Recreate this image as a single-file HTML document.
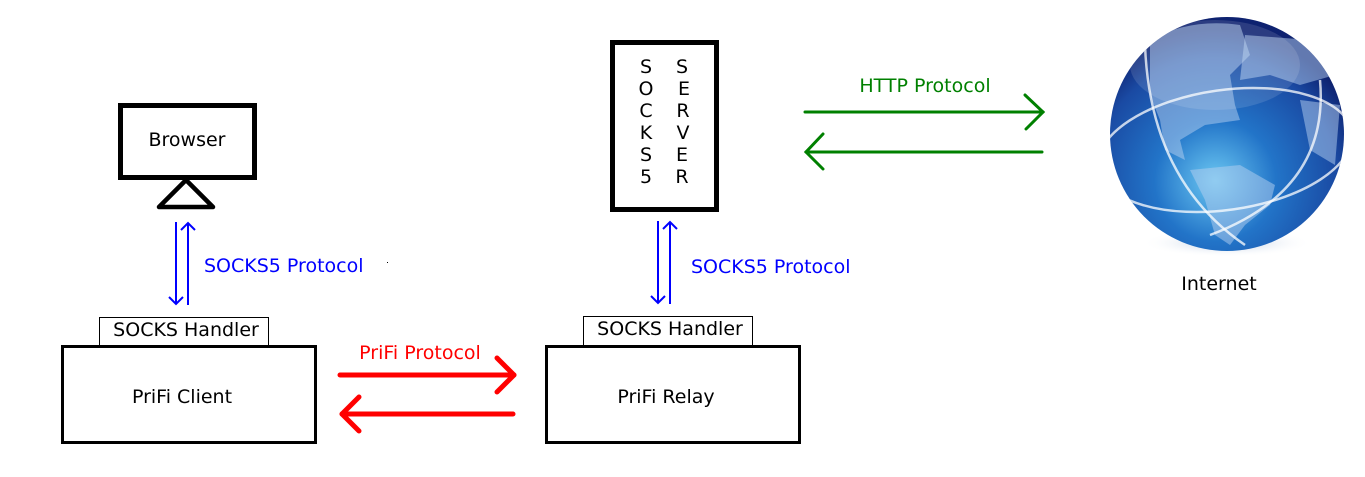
<!DOCTYPE html>
<html><head><meta charset="utf-8"><style>
html,body{margin:0;padding:0;background:#fff;}
svg{display:block;}
text{font-family:"DejaVu Sans","Liberation Sans",sans-serif;font-size:19px;}
</style></head><body>
<svg width="1365" height="477" viewBox="0 0 1365 477" xmlns="http://www.w3.org/2000/svg">
<defs>
<radialGradient id="g" cx="0.45" cy="0.7" r="0.65">
<stop offset="0" stop-color="#6cc8f2"/>
<stop offset="0.4" stop-color="#2274c8"/>
<stop offset="0.8" stop-color="#1a4aa3"/>
<stop offset="1" stop-color="#0e2270"/>
</radialGradient>
<radialGradient id="sh" cx="0.5" cy="0.5" r="0.5">
<stop offset="0" stop-color="#9fb6d6" stop-opacity="0.8"/>
<stop offset="1" stop-color="#fff" stop-opacity="0"/>
</radialGradient>
<clipPath id="c"><circle cx="1227" cy="134" r="117"/></clipPath>
</defs>

<rect x="120.5" y="105.5" width="134" height="72" fill="none" stroke="#000" stroke-width="5"/>
<text x="187" y="146" text-anchor="middle">Browser</text>
<polygon points="186,180 159,207 213,207" fill="none" stroke="#000" stroke-width="4.5" stroke-linejoin="round"/>

<g stroke="#0000ff" stroke-width="2" fill="none">
<line x1="176" y1="222" x2="176" y2="304"/><polyline points="169,297 176,304 183,297"/>
<line x1="188" y1="224" x2="188" y2="305"/><polyline points="181,230 188,223 195,230"/>
<line x1="658" y1="221" x2="658" y2="303"/><polyline points="651,296 658,303 665,296"/>
<line x1="670" y1="223" x2="670" y2="304"/><polyline points="663,229 670,222 677,229"/>
</g>
<text x="204" y="272" fill="#0000ff">SOCKS5 Protocol</text>
<text x="691" y="273" fill="#0000ff">SOCKS5 Protocol</text>
<rect x="387" y="262" width="1" height="1" fill="#000"/>

<rect x="99.5" y="317.5" width="169" height="29" fill="#fff" stroke="#000" stroke-width="1"/>
<text x="186" y="336" text-anchor="middle">SOCKS Handler</text>
<rect x="62.5" y="346.5" width="253" height="96" fill="none" stroke="#000" stroke-width="3"/>
<text x="182" y="403" text-anchor="middle">PriFi Client</text>

<rect x="583.5" y="316.5" width="169" height="29" fill="#fff" stroke="#000" stroke-width="1"/>
<text x="670" y="335" text-anchor="middle">SOCKS Handler</text>
<rect x="546.5" y="346.5" width="253" height="96" fill="none" stroke="#000" stroke-width="3"/>
<text x="666" y="403" text-anchor="middle">PriFi Relay</text>

<text x="420" y="359" text-anchor="middle" fill="#ff0000">PriFi Protocol</text>
<g stroke="#ff0000" stroke-width="5" fill="none" stroke-linecap="round" stroke-linejoin="round">
<line x1="340" y1="375" x2="514" y2="375"/><polyline points="497,358 514,375 497,392"/>
<line x1="513" y1="414" x2="342" y2="414"/><polyline points="359,397 342,414 359,431"/>
</g>

<rect x="612.5" y="42.5" width="104" height="167" fill="none" stroke="#000" stroke-width="5"/>
<g text-anchor="middle">
<text x="646" y="73">S</text><text x="682" y="73">S</text>
<text x="646" y="95">O</text><text x="684" y="95">E</text>
<text x="646" y="117">C</text><text x="683" y="117">R</text>
<text x="646" y="139">K</text><text x="683" y="139">V</text>
<text x="646" y="161">S</text><text x="682" y="161">E</text>
<text x="646" y="183">5</text><text x="682" y="183">R</text>
</g>

<text x="925" y="92" text-anchor="middle" fill="#008000">HTTP Protocol</text>
<g stroke="#008000" stroke-width="3" fill="none" stroke-linecap="round">
<line x1="805" y1="112" x2="1043" y2="112"/><polyline points="1025,95 1043,112 1026,129"/>
<line x1="1042" y1="152" x2="806" y2="152"/><polyline points="823,134 806,152 823,169"/>
</g>

<ellipse cx="1227" cy="243" rx="85" ry="14" fill="url(#sh)"/>
<circle cx="1227" cy="134" r="117" fill="url(#g)"/>
<g clip-path="url(#c)" fill="#b5d0f0" fill-opacity="0.5">
<path d="M1150,40 Q1190,18 1240,25 L1250,55 L1230,75 L1235,105 L1240,120 L1205,125 L1180,140 L1185,160 L1165,150 L1160,120 L1150,95 Z"/>
<path d="M1190,170 L1240,165 L1275,185 L1270,205 L1245,225 L1230,245 L1215,235 L1205,200 Z"/>
<path d="M1245,35 L1310,40 L1335,75 L1300,85 L1270,75 L1240,80 Z"/>
<path d="M1300,100 L1340,105 L1335,165 L1310,150 Z"/>
</g>
<g clip-path="url(#c)" fill="none" stroke="#ffffff" stroke-opacity="0.75" stroke-width="2.5">
<ellipse cx="1225" cy="150" rx="128" ry="60" transform="rotate(-8 1225 150)"/>
<path d="M1145,45 Q1150,180 1245,245"/>
<path d="M1210,235 Q1330,190 1320,80"/>
</g>
<ellipse cx="1215" cy="65" rx="85" ry="45" fill="#fff" fill-opacity="0.12"/>
<text x="1219" y="290" text-anchor="middle">Internet</text>
</svg>
</body></html>
